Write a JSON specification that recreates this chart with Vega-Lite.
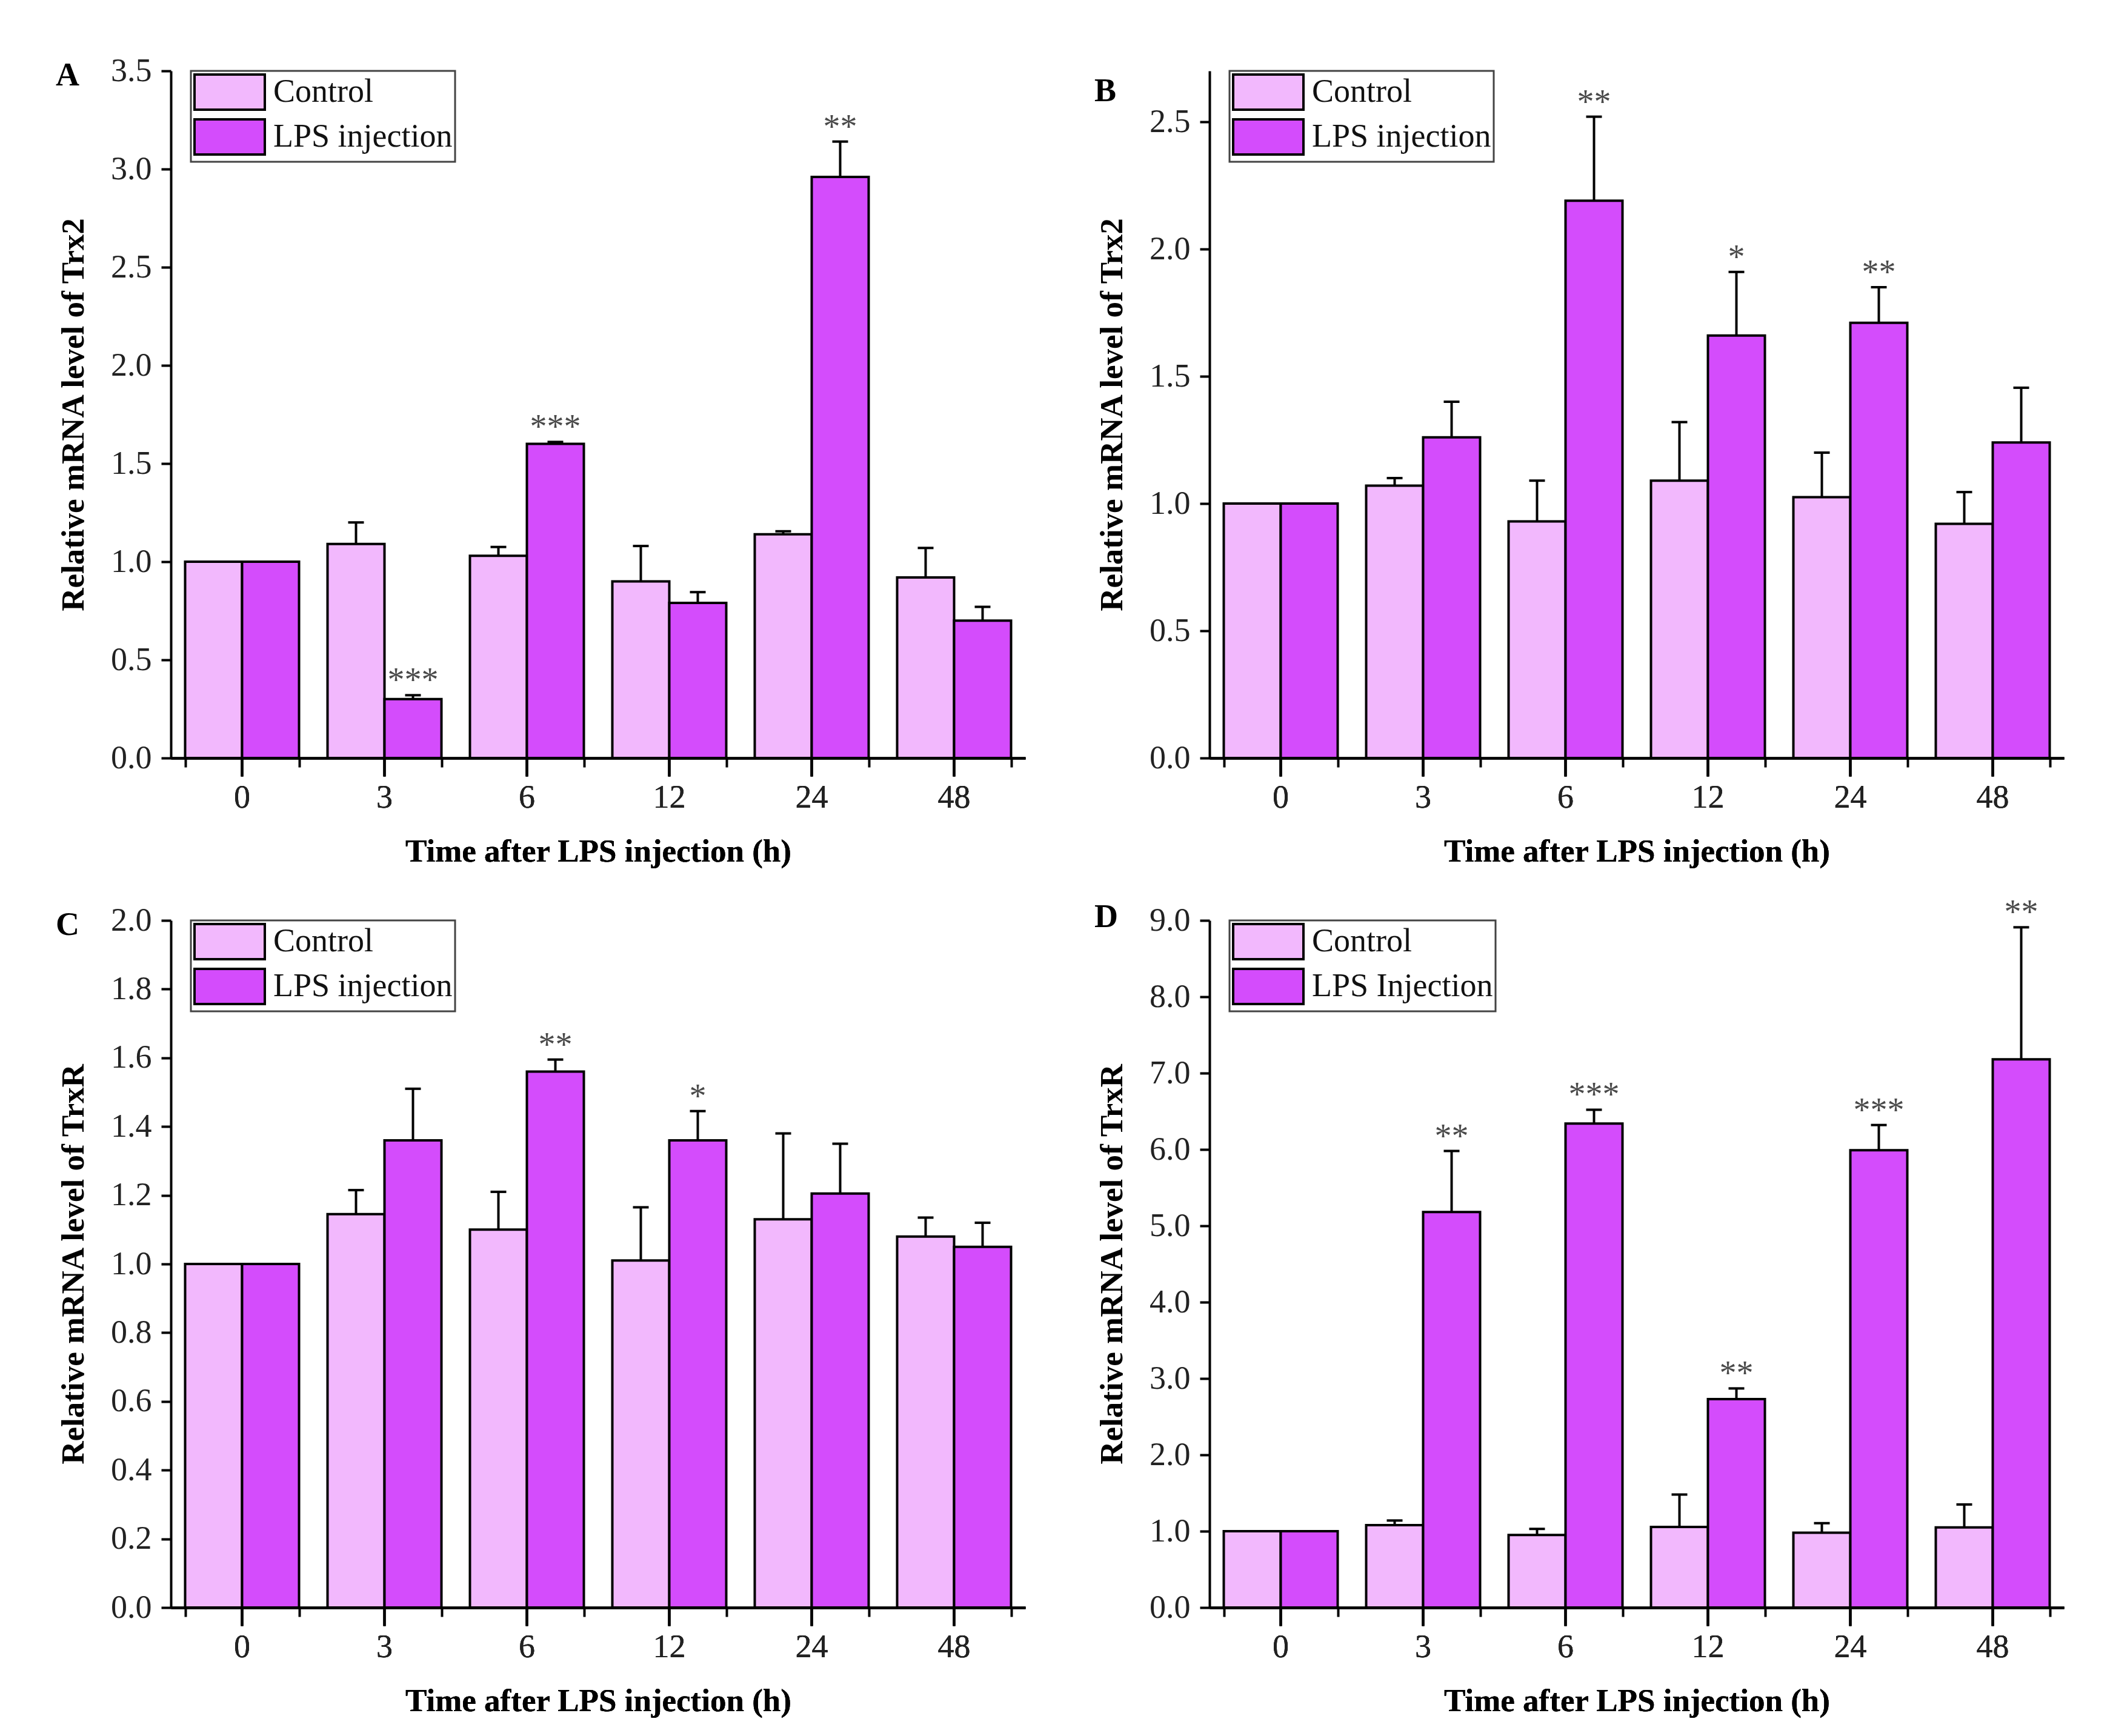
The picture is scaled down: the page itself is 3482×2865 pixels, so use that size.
{
  "$schema": "https://vega.github.io/schema/vega-lite/v6.json",
  "background": "white",
  "padding": {"left": 92, "top": 90, "right": 20, "bottom": 20},
  "datasets": {
    "A": [
      {"time": "0", "group": "Control", "value": 1.0, "upper": null, "sig": ""},
      {"time": "0", "group": "LPS injection", "value": 1.0, "upper": null, "sig": ""},
      {"time": "3", "group": "Control", "value": 1.09, "upper": 1.2, "sig": ""},
      {"time": "3", "group": "LPS injection", "value": 0.3, "upper": 0.32, "sig": "***"},
      {"time": "6", "group": "Control", "value": 1.03, "upper": 1.075, "sig": ""},
      {"time": "6", "group": "LPS injection", "value": 1.6, "upper": 1.61, "sig": "***"},
      {"time": "12", "group": "Control", "value": 0.9, "upper": 1.08, "sig": ""},
      {"time": "12", "group": "LPS injection", "value": 0.79, "upper": 0.845, "sig": ""},
      {"time": "24", "group": "Control", "value": 1.14, "upper": 1.155, "sig": ""},
      {"time": "24", "group": "LPS injection", "value": 2.96, "upper": 3.14, "sig": "**"},
      {"time": "48", "group": "Control", "value": 0.92, "upper": 1.07, "sig": ""},
      {"time": "48", "group": "LPS injection", "value": 0.7, "upper": 0.77, "sig": ""}
    ],
    "B": [
      {"time": "0", "group": "Control", "value": 1.0, "upper": null, "sig": ""},
      {"time": "0", "group": "LPS injection", "value": 1.0, "upper": null, "sig": ""},
      {"time": "3", "group": "Control", "value": 1.07, "upper": 1.1, "sig": ""},
      {"time": "3", "group": "LPS injection", "value": 1.26, "upper": 1.4, "sig": ""},
      {"time": "6", "group": "Control", "value": 0.93, "upper": 1.09, "sig": ""},
      {"time": "6", "group": "LPS injection", "value": 2.19, "upper": 2.52, "sig": "**"},
      {"time": "12", "group": "Control", "value": 1.09, "upper": 1.32, "sig": ""},
      {"time": "12", "group": "LPS injection", "value": 1.66, "upper": 1.91, "sig": "*"},
      {"time": "24", "group": "Control", "value": 1.025, "upper": 1.2, "sig": ""},
      {"time": "24", "group": "LPS injection", "value": 1.71, "upper": 1.85, "sig": "**"},
      {"time": "48", "group": "Control", "value": 0.92, "upper": 1.045, "sig": ""},
      {"time": "48", "group": "LPS injection", "value": 1.24, "upper": 1.455, "sig": ""}
    ],
    "C": [
      {"time": "0", "group": "Control", "value": 1.0, "upper": null, "sig": ""},
      {"time": "0", "group": "LPS injection", "value": 1.0, "upper": null, "sig": ""},
      {"time": "3", "group": "Control", "value": 1.145, "upper": 1.215, "sig": ""},
      {"time": "3", "group": "LPS injection", "value": 1.36, "upper": 1.51, "sig": ""},
      {"time": "6", "group": "Control", "value": 1.1, "upper": 1.21, "sig": ""},
      {"time": "6", "group": "LPS injection", "value": 1.56, "upper": 1.595, "sig": "**"},
      {"time": "12", "group": "Control", "value": 1.01, "upper": 1.165, "sig": ""},
      {"time": "12", "group": "LPS injection", "value": 1.36, "upper": 1.445, "sig": "*"},
      {"time": "24", "group": "Control", "value": 1.13, "upper": 1.38, "sig": ""},
      {"time": "24", "group": "LPS injection", "value": 1.205, "upper": 1.35, "sig": ""},
      {"time": "48", "group": "Control", "value": 1.08, "upper": 1.135, "sig": ""},
      {"time": "48", "group": "LPS injection", "value": 1.05, "upper": 1.12, "sig": ""}
    ],
    "D": [
      {"time": "0", "group": "Control", "value": 1.0, "upper": null, "sig": ""},
      {"time": "0", "group": "LPS Injection", "value": 1.0, "upper": null, "sig": ""},
      {"time": "3", "group": "Control", "value": 1.08, "upper": 1.14, "sig": ""},
      {"time": "3", "group": "LPS Injection", "value": 5.18, "upper": 5.98, "sig": "**"},
      {"time": "6", "group": "Control", "value": 0.95, "upper": 1.03, "sig": ""},
      {"time": "6", "group": "LPS Injection", "value": 6.34, "upper": 6.52, "sig": "***"},
      {"time": "12", "group": "Control", "value": 1.055, "upper": 1.48, "sig": ""},
      {"time": "12", "group": "LPS Injection", "value": 2.73, "upper": 2.87, "sig": "**"},
      {"time": "24", "group": "Control", "value": 0.98, "upper": 1.105, "sig": ""},
      {"time": "24", "group": "LPS Injection", "value": 5.99, "upper": 6.32, "sig": "***"},
      {"time": "48", "group": "Control", "value": 1.05, "upper": 1.35, "sig": ""},
      {"time": "48", "group": "LPS Injection", "value": 7.18, "upper": 8.91, "sig": "**"}
    ]
  },
  "columns": 2,
  "spacing": {"row": 47, "column": 114},
  "resolve": {"scale": {"fill": "independent", "y": "independent", "x": "independent", "xOffset": "independent"}, "legend": {"fill": "independent"}},
  "concat": [
    {
      "width": 1410, "height": 1134,
      "data": {"name": "A"},
      "title": {"text": "A"},
      "resolve": {"axis": {"x": "independent"}},
      "encoding": {
        "x": {"field": "time", "type": "ordinal", "sort": ["0", "3", "6", "12", "24", "48"], "scale": {"paddingInner": 0.2, "paddingOuter": 0.1}, "axis": {"orient": "bottom"}, "title": "Time after LPS injection (h)"},
        "xOffset": {"field": "group", "type": "nominal", "sort": ["Control", "LPS injection"], "scale": {"paddingInner": 0, "paddingOuter": 0}}
      },
      "layer": [
        {
          "mark": {"type": "bar", "stroke": "black", "strokeWidth": 4},
          "encoding": {
            "y": {"field": "value", "type": "quantitative", "scale": {"domain": [0, 3.5], "nice": false}, "axis": {"values": [0, 0.5, 1, 1.5, 2, 2.5, 3, 3.5], "format": ".1f"}, "title": "Relative mRNA level of Trx2"},
            "fill": {"field": "group", "type": "nominal", "scale": {"domain": ["Control", "LPS injection"], "range": ["#F2B8FD", "#D44CFC"]}, "legend": {"title": null}}
          }
        },
        {
          "transform": [{"filter": "datum.upper != null"}],
          "mark": {"type": "rule", "color": "black", "strokeWidth": 4},
          "encoding": {
            "x": {"field": "time", "type": "ordinal", "sort": ["0", "3", "6", "12", "24", "48"], "axis": {"orient": "bottom", "tickBand": "extent", "tickSize": 15, "labels": false, "domain": false}, "title": null},
            "y": {"field": "value", "type": "quantitative"}, "y2": {"field": "upper"}
          }
        },
        {
          "transform": [{"filter": "datum.upper != null"}],
          "mark": {"type": "tick", "color": "black", "size": 26, "thickness": 4, "opacity": 1},
          "encoding": {"y": {"field": "upper", "type": "quantitative"}}
        },
        {
          "transform": [{"filter": "datum.sig != ''"}],
          "mark": {"type": "text", "font": "Liberation Serif", "fontSize": 56, "color": "#4a4a4a", "baseline": "alphabetic", "dy": -6},
          "encoding": {"y": {"field": "upper", "type": "quantitative"}, "text": {"field": "sig"}}
        }
      ]
    },
    {
      "width": 1410, "height": 1134,
      "data": {"name": "B"},
      "title": {"text": "B"},
      "resolve": {"axis": {"x": "independent"}},
      "encoding": {
        "x": {"field": "time", "type": "ordinal", "sort": ["0", "3", "6", "12", "24", "48"], "scale": {"paddingInner": 0.2, "paddingOuter": 0.1}, "axis": {"orient": "bottom"}, "title": "Time after LPS injection (h)"},
        "xOffset": {"field": "group", "type": "nominal", "sort": ["Control", "LPS injection"], "scale": {"paddingInner": 0, "paddingOuter": 0}}
      },
      "layer": [
        {
          "mark": {"type": "bar", "stroke": "black", "strokeWidth": 4},
          "encoding": {
            "y": {"field": "value", "type": "quantitative", "scale": {"domain": [0, 2.7], "nice": false}, "axis": {"values": [0, 0.5, 1, 1.5, 2, 2.5], "format": ".1f"}, "title": "Relative mRNA level of Trx2"},
            "fill": {"field": "group", "type": "nominal", "scale": {"domain": ["Control", "LPS injection"], "range": ["#F2B8FD", "#D44CFC"]}, "legend": {"title": null}}
          }
        },
        {
          "transform": [{"filter": "datum.upper != null"}],
          "mark": {"type": "rule", "color": "black", "strokeWidth": 4},
          "encoding": {
            "x": {"field": "time", "type": "ordinal", "sort": ["0", "3", "6", "12", "24", "48"], "axis": {"orient": "bottom", "tickBand": "extent", "tickSize": 15, "labels": false, "domain": false}, "title": null},
            "y": {"field": "value", "type": "quantitative"}, "y2": {"field": "upper"}
          }
        },
        {
          "transform": [{"filter": "datum.upper != null"}],
          "mark": {"type": "tick", "color": "black", "size": 26, "thickness": 4, "opacity": 1},
          "encoding": {"y": {"field": "upper", "type": "quantitative"}}
        },
        {
          "transform": [{"filter": "datum.sig != ''"}],
          "mark": {"type": "text", "font": "Liberation Serif", "fontSize": 56, "color": "#4a4a4a", "baseline": "alphabetic", "dy": -6},
          "encoding": {"y": {"field": "upper", "type": "quantitative"}, "text": {"field": "sig"}}
        }
      ]
    },
    {
      "width": 1410, "height": 1134,
      "data": {"name": "C"},
      "title": {"text": "C"},
      "resolve": {"axis": {"x": "independent"}},
      "encoding": {
        "x": {"field": "time", "type": "ordinal", "sort": ["0", "3", "6", "12", "24", "48"], "scale": {"paddingInner": 0.2, "paddingOuter": 0.1}, "axis": {"orient": "bottom"}, "title": "Time after LPS injection (h)"},
        "xOffset": {"field": "group", "type": "nominal", "sort": ["Control", "LPS injection"], "scale": {"paddingInner": 0, "paddingOuter": 0}}
      },
      "layer": [
        {
          "mark": {"type": "bar", "stroke": "black", "strokeWidth": 4},
          "encoding": {
            "y": {"field": "value", "type": "quantitative", "scale": {"domain": [0, 2], "nice": false}, "axis": {"values": [0, 0.2, 0.4, 0.6, 0.8, 1, 1.2, 1.4, 1.6, 1.8, 2], "format": ".1f"}, "title": "Relative mRNA level of TrxR"},
            "fill": {"field": "group", "type": "nominal", "scale": {"domain": ["Control", "LPS injection"], "range": ["#F2B8FD", "#D44CFC"]}, "legend": {"title": null}}
          }
        },
        {
          "transform": [{"filter": "datum.upper != null"}],
          "mark": {"type": "rule", "color": "black", "strokeWidth": 4},
          "encoding": {
            "x": {"field": "time", "type": "ordinal", "sort": ["0", "3", "6", "12", "24", "48"], "axis": {"orient": "bottom", "tickBand": "extent", "tickSize": 15, "labels": false, "domain": false}, "title": null},
            "y": {"field": "value", "type": "quantitative"}, "y2": {"field": "upper"}
          }
        },
        {
          "transform": [{"filter": "datum.upper != null"}],
          "mark": {"type": "tick", "color": "black", "size": 26, "thickness": 4, "opacity": 1},
          "encoding": {"y": {"field": "upper", "type": "quantitative"}}
        },
        {
          "transform": [{"filter": "datum.sig != ''"}],
          "mark": {"type": "text", "font": "Liberation Serif", "fontSize": 56, "color": "#4a4a4a", "baseline": "alphabetic", "dy": -6},
          "encoding": {"y": {"field": "upper", "type": "quantitative"}, "text": {"field": "sig"}}
        }
      ]
    },
    {
      "width": 1410, "height": 1134,
      "data": {"name": "D"},
      "title": {"text": "D"},
      "resolve": {"axis": {"x": "independent"}},
      "encoding": {
        "x": {"field": "time", "type": "ordinal", "sort": ["0", "3", "6", "12", "24", "48"], "scale": {"paddingInner": 0.2, "paddingOuter": 0.1}, "axis": {"orient": "bottom"}, "title": "Time after LPS injection (h)"},
        "xOffset": {"field": "group", "type": "nominal", "sort": ["Control", "LPS Injection"], "scale": {"paddingInner": 0, "paddingOuter": 0}}
      },
      "layer": [
        {
          "mark": {"type": "bar", "stroke": "black", "strokeWidth": 4},
          "encoding": {
            "y": {"field": "value", "type": "quantitative", "scale": {"domain": [0, 9], "nice": false}, "axis": {"values": [0, 1, 2, 3, 4, 5, 6, 7, 8, 9], "format": ".1f"}, "title": "Relative mRNA level of TrxR"},
            "fill": {"field": "group", "type": "nominal", "scale": {"domain": ["Control", "LPS Injection"], "range": ["#F2B8FD", "#D44CFC"]}, "legend": {"title": null}}
          }
        },
        {
          "transform": [{"filter": "datum.upper != null"}],
          "mark": {"type": "rule", "color": "black", "strokeWidth": 4},
          "encoding": {
            "x": {"field": "time", "type": "ordinal", "sort": ["0", "3", "6", "12", "24", "48"], "axis": {"orient": "bottom", "tickBand": "extent", "tickSize": 15, "labels": false, "domain": false}, "title": null},
            "y": {"field": "value", "type": "quantitative"}, "y2": {"field": "upper"}
          }
        },
        {
          "transform": [{"filter": "datum.upper != null"}],
          "mark": {"type": "tick", "color": "black", "size": 26, "thickness": 4, "opacity": 1},
          "encoding": {"y": {"field": "upper", "type": "quantitative"}}
        },
        {
          "transform": [{"filter": "datum.sig != ''"}],
          "mark": {"type": "text", "font": "Liberation Serif", "fontSize": 56, "color": "#4a4a4a", "baseline": "alphabetic", "dy": -6},
          "encoding": {"y": {"field": "upper", "type": "quantitative"}, "text": {"field": "sig"}}
        }
      ]
    }
  ],
  "config": {
    "font": "Liberation Serif",
    "view": {"stroke": null},
    "title": {"font": "Liberation Serif", "fontSize": 54, "fontWeight": "bold", "color": "black", "anchor": "start", "frame": "group", "baseline": "alphabetic", "offset": 0, "dx": -190, "dy": 66},
    "axis": {
      "grid": false,
      "domainColor": "black", "domainWidth": 4,
      "tickColor": "black", "tickWidth": 4,
      "labelFont": "Liberation Serif", "labelFontSize": 54, "labelColor": "#222",
      "titleFont": "Liberation Serif", "titleFontSize": 53, "titleFontWeight": "bold", "titleColor": "black"
    },
    "axisY": {"tickSize": 16, "labelPadding": 16, "titlePadding": 34},
    "axisX": {"labelAngle": 0, "tickSize": 30, "labelPadding": 8, "titlePadding": 36},
    "legend": {
      "orient": "none", "legendX": 33, "legendY": 0,
      "fillColor": "white", "strokeColor": "#444", "strokeWidth": 3, "padding": 4,
      "symbolType": "M-1,-1H3V1H-1Z", "symbolSize": 3364,
      "symbolStrokeColor": "black", "symbolStrokeWidth": 4, "symbolOpacity": 1,
      "labelFont": "Liberation Serif", "labelFontSize": 54, "labelColor": "#111", "labelOffset": 70, "labelLimit": 0, "rowPadding": 0
    }
  }
}
